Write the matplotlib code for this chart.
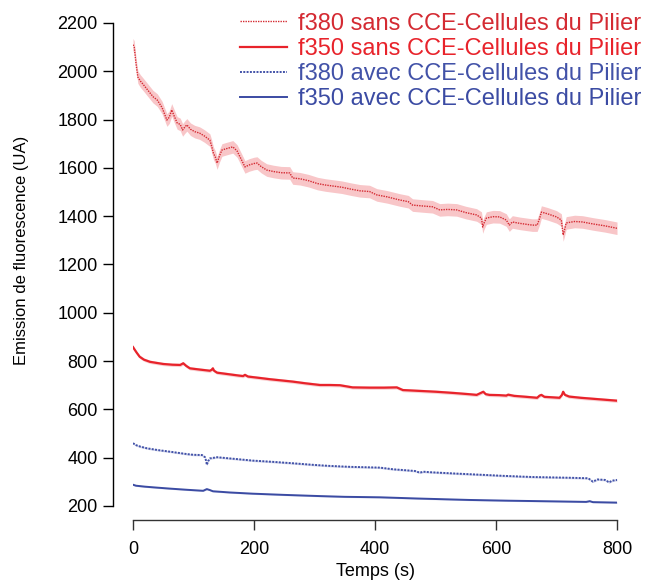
import numpy as np
import matplotlib
matplotlib.use("Agg")
import matplotlib.pyplot as plt

plt.rcParams['font.family'] = ['Liberation Sans', 'DejaVu Sans']

# f380 sans CCE (temps s, emission UA, demi-largeur de la bande)
t_380_sans = [0, 2, 5, 8, 12, 17, 25, 33, 40, 48, 56, 60, 64, 68, 73, 78, 82, 86, 89, 95,
              102, 110, 118, 127, 130, 133, 136, 139, 143, 147, 155, 165, 172, 178, 185, 192,
              200, 205, 212, 221, 232, 245, 259, 264, 276, 290, 305, 318, 330, 345, 360, 375,
              391, 403, 420, 441, 455, 462, 480, 495, 507, 520, 535, 550, 568, 576, 578, 580,
              584, 595, 606, 617, 622, 627, 640, 660, 668, 672, 675, 685, 700, 708, 711, 713,
              716, 730, 743, 760, 780, 800]
v_380_sans = [2110, 2100, 2030, 1976, 1960, 1945, 1920, 1895, 1881, 1850, 1798, 1810, 1840,
              1815, 1786, 1780, 1757, 1770, 1778, 1760, 1750, 1744, 1732, 1715, 1690, 1660,
              1645, 1620, 1650, 1674, 1680, 1687, 1670, 1640, 1604, 1612, 1618, 1620, 1605,
              1591, 1585, 1580, 1579, 1558, 1555, 1547, 1535, 1529, 1525, 1520, 1512, 1505,
              1502, 1488, 1480, 1467, 1460, 1446, 1442, 1439, 1426, 1428, 1426, 1415, 1405,
              1392, 1355, 1370, 1392, 1398, 1397, 1384, 1363, 1376, 1370, 1363, 1363, 1390,
              1417, 1410, 1397, 1384, 1322, 1340, 1372, 1378, 1376, 1368, 1360, 1350]
err_380_sans = 26

# f350 sans CCE
t_350_sans = [0, 2, 6, 11, 18, 28, 40, 50, 65, 78, 83, 88, 94, 110, 127, 130, 132, 134, 139,
              160, 175, 182, 185, 190, 210, 226, 245, 264, 285, 309, 325, 342, 363, 391, 415,
              436, 446, 470, 501, 530, 555, 568, 579, 583, 589, 605, 617, 620, 630, 650, 668,
              672, 675, 680, 705, 709, 711, 714, 721, 740, 760, 780, 800]
v_350_sans = [858, 850, 835, 818, 806, 797, 792, 788, 785, 784, 791, 780, 770, 765, 760, 764,
              770, 760, 752, 745, 740, 738, 743, 736, 730, 725, 720, 715, 708, 701, 701, 700,
              691, 690, 690, 691, 680, 677, 673, 668, 663, 660, 673, 663, 660, 659, 657, 661,
              656, 652, 648, 657, 660, 652, 648, 660, 673, 660, 653, 648, 644, 640, 636]
err_350_sans = 7

# f380 avec CCE
t_380_avec = [0, 5, 12, 23, 40, 61, 75, 89, 100, 114, 119, 121, 122, 124, 127, 139, 160, 198,
              230, 264, 300, 325, 360, 408, 430, 446, 466, 474, 480, 490, 528, 570, 611, 660,
              721, 750, 754, 760, 768, 780, 787, 792, 800]
v_380_avec = [460, 452, 446, 439, 432, 425, 420, 415, 412, 411, 402, 385, 370, 385, 397, 402,
              397, 388, 383, 377, 370, 366, 362, 359, 352, 349, 345, 338, 342, 340, 335, 330,
              325, 320, 317, 315, 312, 301, 310, 308, 298, 305, 308]
err_380_avec = 4

# f350 avec CCE
t_350_avec = [0, 5, 20, 40, 61, 90, 116, 122, 127, 132, 160, 198, 250, 309, 350, 408, 470, 556,
              620, 700, 749, 755, 760, 780, 800]
v_350_avec = [288, 284, 280, 276, 272, 267, 263, 270, 266, 261, 256, 251, 246, 241, 238, 236,
              231, 225, 222, 219, 217, 220, 216, 215, 214]
err_350_avec = 3

labels = ["f380 sans CCE-Cellules du Pilier", "f350 sans CCE-Cellules du Pilier",
          "f380 avec CCE-Cellules du Pilier", "f350 avec CCE-Cellules du Pilier"]

red = "#e8232b"
blue = "#3b4ba3"

fig = plt.figure(figsize=(6.46, 5.8), dpi=100)
ax = fig.add_axes([0.2059, 0.1276, 0.7492, 0.8328])

series = [
    (t_380_sans, v_380_sans, err_380_sans, "#d42a32", "#f7bcbf", (0, (1, 0.8)), 1.0, labels[0]),
    (t_350_sans, v_350_sans, err_350_sans, red, "#f8c8ca", "-", 1.6, labels[1]),
    (t_380_avec, v_380_avec, err_380_avec, "#4252a8", "#cdd1ea", (0, (1, 0.7)), 1.4, labels[2]),
    (t_350_avec, v_350_avec, err_350_avec, blue, "#cdd1ea", "-", 1.4, labels[3]),
]
for t, v, e, c, band, ls, lw, lab in series:
    t = np.array(t)
    v = np.array(v)
    ax.fill_between(t, v - e, v + e, color=band, lw=0, alpha=0.85)
    ax.plot(t, v, color=c, ls=ls, lw=lw, label=lab)

ax.set_xlim(0, 800)
ax.set_ylim(200, 2200)
ax.set_xticks([0, 200, 400, 600, 800])
ax.set_yticks(range(200, 2201, 200))

for s in ["top", "right"]:
    ax.spines[s].set_visible(False)
ax.spines["left"].set_position(("outward", 14.4))
ax.spines["bottom"].set_position(("outward", 10))
ax.spines["left"].set_bounds(200, 2200)
ax.spines["bottom"].set_bounds(0, 800)
ax.spines["left"].set_linewidth(1.0)
ax.spines["bottom"].set_linewidth(1.0)
ax.spines["bottom"].set_color("#333333")
ax.tick_params(axis="y", length=7, width=1.0, pad=4, labelsize=13)
ax.tick_params(axis="x", length=7, width=1.0, pad=8, labelsize=13, color="#333333")

ax.set_xlabel("Temps (s)", fontsize=13, labelpad=4)
ax.set_ylabel("Emission de fluorescence (UA)", fontsize=12)
ax.yaxis.set_label_coords(-0.215, 0.53)

fig.legend(loc="upper right", bbox_to_anchor=(0.993, 0.978), frameon=False,
           fontsize=17, labelcolor="linecolor", handlelength=2.0, handletextpad=0.45,
           labelspacing=0.13, borderpad=0, borderaxespad=0)

fig.savefig("out.png", dpi=100)
